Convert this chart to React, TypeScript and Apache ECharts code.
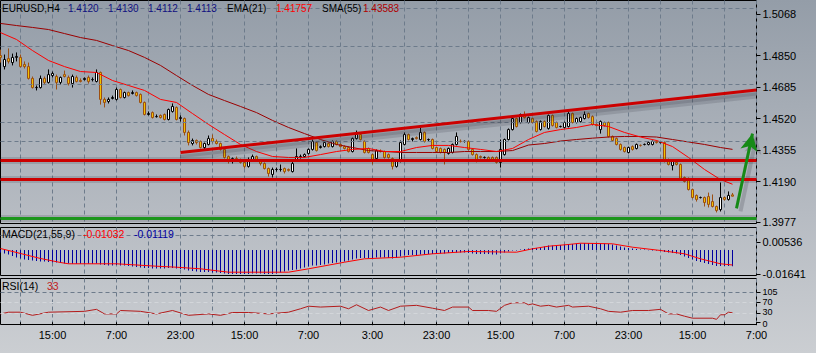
import React, { useEffect, useRef } from "react";
import * as echarts from "echarts";

const FONT = '"Liberation Sans", Arial, sans-serif';

// ---- price candles (H4 EURUSD) ----
const opens = [1.4850,1.4792,1.4834,1.4813,1.4840,1.4840,1.4803,1.4792,1.4730,1.4682,1.4682,1.4730,1.4709,1.4745,1.4740,1.4709,1.4750,1.4735,1.4703,1.4735,1.4719,1.4724,1.4735,1.4724,1.4714,1.4761,1.4620,1.4609,1.4625,1.4620,1.4672,1.4630,1.4656,1.4651,1.4656,1.4646,1.4604,1.4541,1.4551,1.4530,1.4536,1.4541,1.4515,1.4557,1.4578,1.4520,1.4520,1.4447,1.4389,1.4405,1.4400,1.4368,1.4384,1.4415,1.4400,1.4389,1.4358,1.4321,1.4295,1.4310,1.4305,1.4290,1.4269,1.4300,1.4321,1.4300,1.4284,1.4258,1.4227,1.4253,1.4253,1.4258,1.4253,1.4242,1.4305,1.4321,1.4321,1.4337,1.4358,1.4394,1.4368,1.4373,1.4389,1.4373,1.4400,1.4384,1.4373,1.4368,1.4347,1.4415,1.4436,1.4400,1.4363,1.4331,1.4310,1.4347,1.4347,1.4331,1.4310,1.4269,1.4295,1.4384,1.4436,1.4410,1.4420,1.4410,1.4447,1.4410,1.4410,1.4368,1.4363,1.4358,1.4337,1.4342,1.4384,1.4400,1.4400,1.4400,1.4358,1.4331,1.4321,1.4316,1.4316,1.4316,1.4316,1.4290,1.4331,1.4410,1.4462,1.4520,1.4499,1.4541,1.4499,1.4520,1.4504,1.4462,1.4504,1.4468,1.4536,1.4499,1.4478,1.4473,1.4478,1.4546,1.4499,1.4504,1.4520,1.4546,1.4530,1.4489,1.4462,1.4499,1.4499,1.4426,1.4415,1.4384,1.4368,1.4342,1.4373,1.4363,1.4379,1.4384,1.4384,1.4384,1.4400,1.4394,1.4394,1.4305,1.4274,1.4290,1.4279,1.4211,1.4206,1.4148,1.4117,1.4106,1.4106,1.4111,1.4085,1.4059,1.4043,1.4106,1.4096,1.4120];
const closes = [1.4840,1.4829,1.4819,1.4840,1.4845,1.4792,1.4792,1.4730,1.4682,1.4682,1.4730,1.4709,1.4750,1.4756,1.4709,1.4735,1.4740,1.4703,1.4740,1.4714,1.4714,1.4730,1.4714,1.4724,1.4761,1.4620,1.4604,1.4620,1.4630,1.4672,1.4630,1.4656,1.4640,1.4656,1.4640,1.4604,1.4541,1.4546,1.4525,1.4530,1.4525,1.4515,1.4567,1.4583,1.4515,1.4525,1.4447,1.4394,1.4405,1.4394,1.4368,1.4389,1.4415,1.4400,1.4389,1.4358,1.4316,1.4295,1.4310,1.4305,1.4290,1.4269,1.4305,1.4321,1.4300,1.4284,1.4258,1.4232,1.4253,1.4253,1.4253,1.4242,1.4248,1.4284,1.4321,1.4321,1.4331,1.4358,1.4400,1.4352,1.4373,1.4394,1.4373,1.4400,1.4384,1.4373,1.4363,1.4347,1.4415,1.4436,1.4410,1.4342,1.4342,1.4300,1.4352,1.4347,1.4316,1.4316,1.4269,1.4300,1.4394,1.4436,1.4410,1.4415,1.4415,1.4447,1.4400,1.4410,1.4363,1.4347,1.4342,1.4342,1.4363,1.4384,1.4426,1.4400,1.4400,1.4358,1.4331,1.4305,1.4316,1.4316,1.4305,1.4300,1.4290,1.4358,1.4410,1.4462,1.4520,1.4478,1.4541,1.4525,1.4525,1.4499,1.4452,1.4504,1.4478,1.4536,1.4483,1.4473,1.4478,1.4499,1.4546,1.4499,1.4520,1.4525,1.4541,1.4525,1.4489,1.4483,1.4504,1.4483,1.4426,1.4405,1.4384,1.4358,1.4347,1.4368,1.4358,1.4384,1.4379,1.4384,1.4394,1.4400,1.4394,1.4394,1.4295,1.4279,1.4295,1.4279,1.4206,1.4190,1.4148,1.4106,1.4096,1.4106,1.4080,1.4070,1.4059,1.4038,1.4106,1.4096,1.4117,1.4113];
const lows = [1.4813,1.4777,1.4808,1.4798,1.4819,1.4787,1.4782,1.4724,1.4677,1.4667,1.4677,1.4698,1.4703,1.4735,1.4672,1.4698,1.4735,1.4693,1.4682,1.4709,1.4709,1.4719,1.4703,1.4714,1.4709,1.4593,1.4578,1.4599,1.4620,1.4614,1.4625,1.4625,1.4635,1.4646,1.4635,1.4599,1.4536,1.4536,1.4520,1.4525,1.4520,1.4510,1.4510,1.4551,1.4510,1.4504,1.4431,1.4379,1.4379,1.4384,1.4363,1.4358,1.4379,1.4394,1.4384,1.4352,1.4310,1.4284,1.4284,1.4295,1.4284,1.4258,1.4263,1.4295,1.4295,1.4274,1.4253,1.4216,1.4211,1.4242,1.4242,1.4232,1.4242,1.4237,1.4300,1.4310,1.4316,1.4331,1.4352,1.4347,1.4363,1.4368,1.4368,1.4368,1.4379,1.4368,1.4358,1.4342,1.4342,1.4410,1.4405,1.4337,1.4337,1.4279,1.4305,1.4342,1.4310,1.4310,1.4253,1.4263,1.4290,1.4379,1.4405,1.4400,1.4410,1.4405,1.4394,1.4400,1.4358,1.4342,1.4337,1.4279,1.4331,1.4337,1.4379,1.4394,1.4394,1.4352,1.4326,1.4290,1.4310,1.4310,1.4300,1.4295,1.4284,1.4263,1.4326,1.4405,1.4457,1.4473,1.4494,1.4520,1.4494,1.4494,1.4447,1.4457,1.4473,1.4462,1.4478,1.4468,1.4473,1.4468,1.4473,1.4494,1.4494,1.4499,1.4515,1.4520,1.4483,1.4478,1.4441,1.4478,1.4420,1.4400,1.4379,1.4352,1.4342,1.4337,1.4352,1.4358,1.4373,1.4379,1.4379,1.4379,1.4389,1.4389,1.4290,1.4274,1.4248,1.4274,1.4200,1.4185,1.4143,1.4101,1.4085,1.4101,1.4059,1.4054,1.4054,1.4028,1.4033,1.4090,1.4090,1.4112];
const highs = [1.4881,1.4855,1.4887,1.4860,1.4866,1.4855,1.4819,1.4813,1.4740,1.4693,1.4745,1.4740,1.4777,1.4766,1.4750,1.4740,1.4771,1.4745,1.4750,1.4745,1.4730,1.4735,1.4745,1.4735,1.4777,1.4766,1.4630,1.4630,1.4640,1.4682,1.4677,1.4661,1.4661,1.4667,1.4661,1.4651,1.4609,1.4557,1.4557,1.4541,1.4541,1.4546,1.4572,1.4599,1.4583,1.4536,1.4525,1.4457,1.4415,1.4410,1.4405,1.4394,1.4431,1.4436,1.4410,1.4394,1.4363,1.4326,1.4316,1.4321,1.4310,1.4295,1.4316,1.4331,1.4326,1.4305,1.4290,1.4263,1.4263,1.4263,1.4279,1.4263,1.4258,1.4295,1.4363,1.4331,1.4337,1.4363,1.4410,1.4400,1.4379,1.4400,1.4394,1.4405,1.4405,1.4389,1.4379,1.4373,1.4420,1.4457,1.4441,1.4405,1.4368,1.4337,1.4358,1.4358,1.4352,1.4337,1.4316,1.4305,1.4405,1.4447,1.4441,1.4420,1.4426,1.4473,1.4452,1.4415,1.4415,1.4373,1.4368,1.4363,1.4368,1.4389,1.4447,1.4410,1.4405,1.4405,1.4363,1.4337,1.4326,1.4321,1.4321,1.4321,1.4321,1.4410,1.4415,1.4468,1.4525,1.4525,1.4546,1.4557,1.4530,1.4525,1.4510,1.4510,1.4510,1.4541,1.4541,1.4504,1.4483,1.4504,1.4567,1.4551,1.4525,1.4530,1.4557,1.4551,1.4536,1.4494,1.4510,1.4504,1.4504,1.4431,1.4420,1.4389,1.4373,1.4373,1.4379,1.4389,1.4384,1.4389,1.4400,1.4405,1.4405,1.4400,1.4400,1.4310,1.4300,1.4295,1.4284,1.4216,1.4211,1.4153,1.4122,1.4111,1.4111,1.4132,1.4122,1.4064,1.4185,1.4111,1.4138,1.4130];

// ---- moving averages (sampled every 4 bars) ----
const maIdx = [0,4,8,12,16,20,24,28,32,36,40,44,48,52,56,60,64,68,72,76,80,84,88,92,96,100,104,108,112,116,120,124,128,132,136,140,144,148,152,156,160,164,168,172,176,180,183];
const emaVal = [1.4970,1.4934,1.4876,1.4824,1.4792,1.4766,1.4761,1.4719,1.4693,1.4667,1.4620,1.4604,1.4546,1.4489,1.4436,1.4384,1.4347,1.4321,1.4316,1.4316,1.4331,1.4347,1.4358,1.4363,1.4347,1.4347,1.4368,1.4379,1.4379,1.4368,1.4358,1.4347,1.4363,1.4410,1.4447,1.4462,1.4473,1.4489,1.4478,1.4447,1.4423,1.4405,1.4373,1.4316,1.4253,1.4200,1.41757];
const smaVal = [1.5018,1.5007,1.4997,1.4986,1.4965,1.4944,1.4929,1.4902,1.4876,1.4840,1.4798,1.4745,1.4693,1.4646,1.4614,1.4583,1.4551,1.4510,1.4473,1.4441,1.4410,1.4384,1.4368,1.4352,1.4347,1.4342,1.4342,1.4342,1.4342,1.4347,1.4347,1.4347,1.4352,1.4381,1.4389,1.4402,1.4410,1.4417,1.4423,1.4426,1.4426,1.4423,1.4410,1.4397,1.4384,1.4368,1.43583];

// ---- MACD(21,55,9) ----
const macdHist = [-0.00172,-0.00241,-0.00310,-0.00413,-0.00517,-0.00585,-0.00654,-0.00689,-0.00723,-0.00758,-0.00792,-0.00792,-0.00826,-0.00861,-0.00861,-0.00895,-0.00930,-0.00930,-0.00950,-0.00950,-0.00950,-0.00950,-0.00950,-0.00950,-0.00930,-0.00999,-0.01033,-0.01067,-0.01067,-0.01033,-0.01067,-0.01067,-0.01102,-0.01136,-0.01171,-0.01205,-0.01240,-0.01240,-0.01274,-0.01274,-0.01274,-0.01274,-0.01240,-0.01240,-0.01274,-0.01309,-0.01343,-0.01412,-0.01446,-0.01481,-0.01515,-0.01515,-0.01515,-0.01550,-0.01550,-0.01584,-0.01618,-0.01653,-0.01653,-0.01653,-0.01653,-0.01653,-0.01653,-0.01618,-0.01618,-0.01618,-0.01653,-0.01653,-0.01653,-0.01618,-0.01550,-0.01481,-0.01412,-0.01377,-0.01343,-0.01274,-0.01205,-0.01136,-0.01067,-0.01067,-0.01033,-0.00999,-0.00930,-0.00895,-0.00861,-0.00826,-0.00792,-0.00723,-0.00654,-0.00585,-0.00551,-0.00551,-0.00551,-0.00551,-0.00517,-0.00517,-0.00517,-0.00551,-0.00585,-0.00551,-0.00448,-0.00379,-0.00344,-0.00344,-0.00344,-0.00310,-0.00310,-0.00275,-0.00275,-0.00241,-0.00241,-0.00241,-0.00207,-0.00207,-0.00172,-0.00172,-0.00172,-0.00207,-0.00241,-0.00275,-0.00275,-0.00275,-0.00275,-0.00310,-0.00310,-0.00241,-0.00172,-0.00103,-0.00034,-0.00034,0.00034,0.00069,0.00103,0.00138,0.00138,0.00207,0.00241,0.00310,0.00310,0.00344,0.00344,0.00379,0.00413,0.00413,0.00448,0.00448,0.00482,0.00482,0.00482,0.00482,0.00448,0.00448,0.00413,0.00379,0.00310,0.00241,0.00172,0.00138,0.00103,0.00069,0.00034,0.00034,-0.00010,-0.00034,-0.00034,-0.00069,-0.00138,-0.00172,-0.00207,-0.00241,-0.00344,-0.00448,-0.00551,-0.00654,-0.00758,-0.00826,-0.00895,-0.00964,-0.01033,-0.01102,-0.01102,-0.01102,-0.01102,-0.01119];
const sigIdx = [0,5,10,15,17,29,39,44,50,57,72,77,86,91,100,108,117,129,133,137,142,145,153,158,165,171,175,180,183];
const sigVal = [0.00103,-0.00241,-0.00585,-0.00861,-0.00950,-0.00950,-0.01116,-0.01185,-0.01295,-0.01529,-0.01529,-0.01295,-0.00840,-0.00606,-0.00496,-0.00262,-0.00103,-0.00152,0.00083,0.00262,0.00379,0.00468,0.00427,0.00193,-0.00034,-0.00262,-0.00606,-0.00950,-0.01032];

// ---- RSI(14) ----
const rsiIdx = [0,2,5,8,12,21,24,26,29,30,35,39,43,47,52,55,58,62,67,72,75,77,80,85,87,89,92,95,97,100,104,108,111,113,117,118,122,124,126,128,131,132,133,135,137,139,142,143,147,150,152,155,158,162,165,167,169,171,173,178,179,180,181,182,183];
const rsiVal = [29,35,35,24,35,38,45,29,29,41,38,29,41,24,29,24,34,34,29,35,47,56,53,56,47,61,41,53,41,56,59,49,41,53,53,41,41,38,59,68,68,61,64,56,59,53,59,53,56,47,38,35,41,41,45,29,29,21,14,14,10,26,26,35,33];

// ---- axes ----
const timeLabels = ["15:00","7:00","23:00","15:00","7:00","3:00","23:00","15:00","7:00","23:00","15:00","7:00"];
const priceTicks = [1.3977, 1.4190, 1.4355, 1.4520, 1.4685, 1.4850, 1.5068];
const macdTicks = [-0.01641, 0.00536];
const rsiTicksA = [0, 70];
const rsiTicksB = [30, 105];
const rsiTop = 105;
const rsiLevels = [30, 70];

// ---- drawn objects ----
const resistanceLevels = [1.4326, 1.4190];
const supportLevel = 1.4009;
const trendFrom = [45, 1.4342];
const trendTo = [189, 1.4669];
const arrowFrom = [184, 1.4049];
const arrowTo = [188, 1.4441];

// ---- header values ----
const symbolName = "EURUSD,H4";
const lastOHLC = [1.4120, 1.4130, 1.4112, 1.4113];
const emaLast = 1.41757;
const smaLast = 1.43583;
const macdLast = -0.01032;
const signalLast = -0.01119;
const rsiLast = 33;

const N_CATS = 190;

function buildOption() {
  const cats = Array.from({ length: N_CATS }, (_, i) => String(i));
  const GRID = "#6d7b8b";
  const dash = [4, 3];
  const vSplit = (i: number) => i % 8 === 5;
  const SH = 0.0026; // drop-shadow offset in price units (~5px)

  const xBase = (gi: number, bottom: boolean) => ({
    type: "category",
    gridIndex: gi,
    data: cats,
    boundaryGap: false,
    axisLine: { show: false },
    axisTick: bottom
      ? { show: true, interval: vSplit, length: 3, lineStyle: { color: "#000" } }
      : { show: false },
    axisLabel: bottom
      ? {
          show: true,
          interval: (i: number) => i % 16 === 13,
          formatter: (v: string) => timeLabels[(Number(v) - 13) / 16] ?? "",
          color: "#000",
          fontSize: 11,
          fontFamily: FONT,
          margin: 5,
          hideOverlap: false,
        }
      : { show: false },
    splitLine: { show: true, interval: vSplit, lineStyle: { color: GRID, type: dash, width: 1 } },
  });

  const yBase = (gi: number, min: number, max: number, ticks: number[], fmt: (v: number) => string, fs = 11, lh?: number, rich?: any) => ({
    type: "value",
    gridIndex: gi,
    position: "right",
    offset: 0,
    min,
    max,
    scale: true,
    axisLine: { show: false },
    splitLine: { show: false },
    axisTick: { show: true, customValues: ticks, length: 4, lineStyle: { color: "#000" } },
    axisLabel: {
      show: true,
      customValues: ticks,
      formatter: fmt,
      color: "#000",
      fontSize: fs,
      ...(lh ? { lineHeight: lh } : {}),
      ...(rich ? { rich } : {}),
      fontFamily: FONT,
      margin: 6,
      hideOverlap: false,
      showMinLabel: true,
      showMaxLabel: true,
    },
  });

  const gridLineSeries = (xi: number, yi: number, items: any[]) => ({
    type: "line",
    xAxisIndex: xi,
    yAxisIndex: yi,
    data: [],
    silent: true,
    z: 1,
    markLine: {
      silent: true,
      symbol: "none",
      label: { show: false },
      lineStyle: { color: GRID, type: dash, width: 1 },
      data: items,
    },
  });

  const markSeries = (z: number, color: string, width: number, items: any[], extra: any = {}) => ({
    type: "line",
    xAxisIndex: 0,
    yAxisIndex: 0,
    data: [],
    silent: true,
    z,
    markLine: {
      silent: true,
      symbol: "none",
      label: { show: false },
      lineStyle: { color, width, type: "solid" },
      data: items,
      ...extra,
    },
  });

  const RED = "#cc0000";
  const GREEN = "#1c961c";
  const SHADOW = "rgba(45,45,55,0.16)";

  const candles = opens.map((o, i) => [o, closes[i], lows[i], highs[i]]);

  const txt = (x: number, y: number, text: string, fill: string, size: number) => ({
    type: "text",
    x,
    y,
    silent: true,
    z: 100,
    style: { text, fill, fontSize: size, fontFamily: FONT, verticalAlign: "middle", align: "left" },
  });

  const redItems = (d: number) => [
    ...resistanceLevels.map((v) => ({ yAxis: v - d })),
    [{ coord: [trendFrom[0], trendFrom[1] - d] }, { coord: [trendTo[0], trendTo[1] - d] }],
  ];

  const RSI_FS = 9;
  const rsiRich = {
    up: { padding: [0, 0, 3, 0], fontSize: RSI_FS, lineHeight: RSI_FS, fontFamily: FONT, color: "#000" },
    dn: { padding: [3, 0, 0, 0], fontSize: RSI_FS, lineHeight: RSI_FS, fontFamily: FONT, color: "#000" },
  };
  const rsiFmt = (v: number) => {
    const s = String(Math.round(v));
    if (s === "30") return `{up|${s}}`;
    if (s === "0") return `{dn|${s}}`;
    return s;
  };

  return {
    animation: false,
    backgroundColor: new echarts.graphic.LinearGradient(0, 0, 0, 1, [
      { offset: 0, color: "#949da8" },
      { offset: 0.6, color: "#b6bbc2" },
      { offset: 1, color: "#cbced2" },
    ]),
    grid: [
      { left: 0.5, top: 0.5, width: 756, height: 223, show: true, borderColor: "#000", borderWidth: 1, backgroundColor: "transparent" },
      { left: 0.5, top: 227.5, width: 756, height: 48, show: true, borderColor: "#000", borderWidth: 1, backgroundColor: "transparent" },
      { left: 0.5, top: 278.5, width: 756, height: 46, show: true, borderColor: "#000", borderWidth: 1, backgroundColor: "transparent" },
    ],
    xAxis: [xBase(0, false), xBase(1, false), xBase(2, true)],
    yAxis: [
      yBase(0, 1.396999, 1.513814, priceTicks, (v: number) => v.toFixed(4)),
      yBase(1, -0.017562, 0.015496, macdTicks, (v: number) => v.toFixed(5)),
      yBase(2, -8.05, 152.95, rsiTicksA, rsiFmt, RSI_FS, RSI_FS, rsiRich),
      yBase(2, -8.05, 152.95, rsiTicksB, rsiFmt, RSI_FS, RSI_FS, rsiRich),
    ],
    series: [
      gridLineSeries(0, 0, priceTicks.map((v) => ({ yAxis: v }))),
      {
        type: "candlestick",
        xAxisIndex: 0,
        yAxisIndex: 0,
        data: candles,
        barWidth: 3,
        z: 3,
        itemStyle: { color: "#ffffff", color0: "#f2c200", borderColor: "#000000", borderColor0: "#9c4f12", borderWidth: 1 },
      },
      {
        type: "line",
        xAxisIndex: 0,
        yAxisIndex: 0,
        data: maIdx.map((k, i) => [k, smaVal[i]]),
        symbol: "none",
        z: 4,
        lineStyle: { color: "#9b0000", width: 1 },
      },
      {
        type: "line",
        xAxisIndex: 0,
        yAxisIndex: 0,
        data: maIdx.map((k, i) => [k, emaVal[i]]),
        symbol: "none",
        z: 4,
        lineStyle: { color: "#ff0000", width: 1 },
      },
      // soft drop shadows below the drawn objects
      markSeries(8, SHADOW, 7, redItems(SH)),
      markSeries(8, SHADOW, 3, redItems(SH * 0.8)),
      markSeries(8, SHADOW, 7, [{ yAxis: supportLevel - SH }]),
      markSeries(8, "rgba(45,45,55,0.2)", 4,
        [[{ coord: [arrowFrom[0] + 1, arrowFrom[1] - SH * 0.6] }, { coord: [arrowTo[0] + 1, arrowTo[1] - SH * 0.6] }]],
        { symbol: ["none", "arrow"], symbolSize: [13, 17], itemStyle: { color: "rgba(45,45,55,0.2)" } }),
      // drawn objects
      markSeries(10, RED, 3, redItems(0)),
      markSeries(10, GREEN, 3, [{ yAxis: supportLevel }]),
      markSeries(11, "#168a16", 3,
        [[{ coord: [arrowFrom[0], arrowFrom[1]] }, { coord: [arrowTo[0], arrowTo[1]] }]],
        { symbol: ["none", "arrow"], symbolSize: [13, 17], itemStyle: { color: "#168a16" } }),
      gridLineSeries(1, 1, macdTicks.map((v) => ({ yAxis: v }))),
      {
        type: "bar",
        xAxisIndex: 1,
        yAxisIndex: 1,
        data: macdHist,
        barWidth: 1,
        z: 3,
        itemStyle: { color: "#0000a0" },
      },
      {
        type: "line",
        xAxisIndex: 1,
        yAxisIndex: 1,
        data: sigIdx.map((k, i) => [k, sigVal[i]]),
        symbol: "none",
        z: 4,
        lineStyle: { color: "#ff0000", width: 1 },
      },
      gridLineSeries(2, 2, [
        { yAxis: rsiTop },
        ...rsiLevels.map((v) => ({ yAxis: v, lineStyle: { color: "#d3d6da", type: dash, width: 1 } })),
      ]),
      {
        type: "line",
        xAxisIndex: 2,
        yAxisIndex: 2,
        data: rsiIdx.map((k, i) => [k, rsiVal[i]]),
        symbol: "none",
        z: 4,
        lineStyle: { color: "#b41c1c", width: 1 },
      },
    ],
    graphic: [
      txt(2, 8, symbolName, "#000", 10),
      txt(68, 8, lastOHLC[0].toFixed(4), "#101080", 10),
      txt(108, 8, lastOHLC[1].toFixed(4), "#101080", 10),
      txt(148, 8, lastOHLC[2].toFixed(4), "#101080", 10),
      txt(187, 8, lastOHLC[3].toFixed(4), "#101080", 10),
      txt(227, 8, "EMA(21)", "#000", 10),
      txt(276, 8, emaLast.toFixed(5), "#ff0000", 10),
      txt(322, 8, "SMA(55)", "#000", 10),
      txt(363, 8, smaLast.toFixed(5), "#b00000", 10),
      txt(2, 233.5, "MACD(21,55,9)", "#000", 10.5),
      txt(83, 233.5, macdLast.toFixed(5), "#ff0000", 10.5),
      txt(134, 233.5, signalLast.toFixed(5), "#0000a0", 10.5),
      txt(2, 285.5, "RSI(14)", "#000", 10.5),
      txt(47, 285.5, String(rsiLast), "#c02020", 10.5),
    ],
  };
}

export default function App() {
  const ref = useRef<HTMLDivElement>(null);
  useEffect(() => {
    if (!ref.current) return;
    const chart = echarts.init(ref.current, null, { renderer: "svg" });
    chart.setOption(buildOption() as any);
    return () => chart.dispose();
  }, []);
  return <div ref={ref} style={{ position: "absolute", left: 0, top: 0, width: 816, height: 353 }} />;
}
